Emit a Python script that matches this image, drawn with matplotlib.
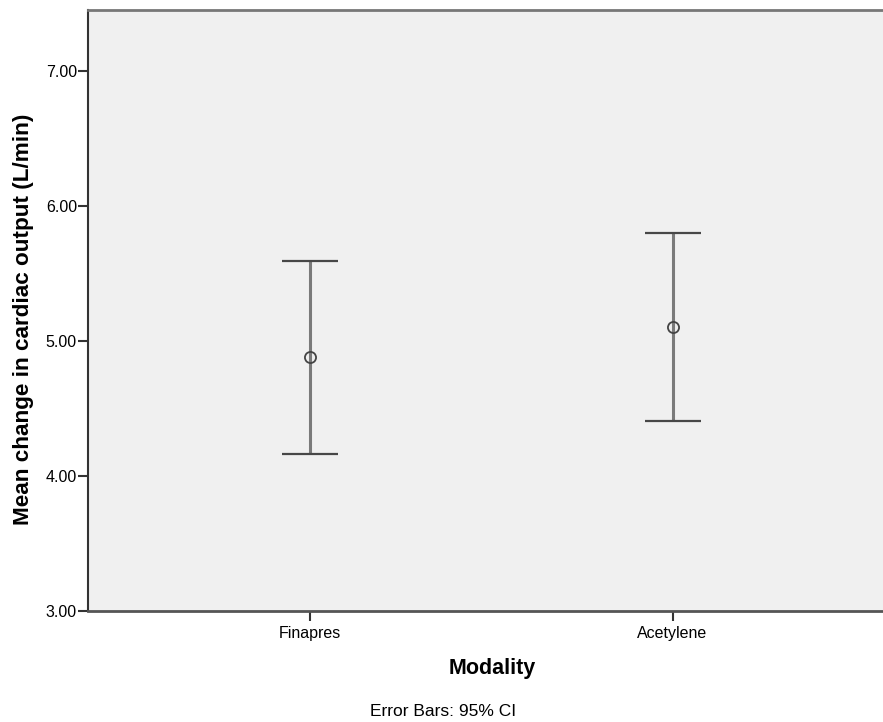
import matplotlib.pyplot as plt
import numpy as np

plt.rcParams['font.family'] = ['Liberation Sans', 'DejaVu Sans']

# data
modality = ['Finapres', 'Acetylene']
mean_change = [4.88, 5.10]
ci_lower = [4.165, 4.41]
ci_upper = [5.595, 5.80]

x = np.arange(1, len(modality) + 1)
mean_arr = np.array(mean_change)
err = [mean_arr - np.array(ci_lower), np.array(ci_upper) - mean_arr]

fig = plt.figure(figsize=(8.83, 7.22), dpi=100)
ax = fig.add_axes([0.0997, 0.1537, 0.9003, 0.8318])
ax.set_facecolor('#f0f0f0')

# whiskers, then darker caps
ax.errorbar(x, mean_arr, yerr=err, fmt='none', ecolor='#7a7a7a',
            elinewidth=2.2, capsize=0)
ax.errorbar(x, mean_arr, yerr=err, fmt='none', ecolor='#474747',
            elinewidth=0, capsize=20, capthick=1.6)
ax.plot(x, mean_arr, 'o', markersize=8, markerfacecolor='none',
        markeredgecolor='#444444', markeredgewidth=1.3)

ax.set_xlim(0.389, 2.58)
ax.set_ylim(3.0, 7.448)
ax.set_xticks(x)
ax.set_xticklabels(modality, fontsize=11.5)
ax.set_yticks([3, 4, 5, 6, 7])
ax.set_yticklabels(['%.2f' % v for v in [3, 4, 5, 6, 7]], fontsize=11.5)
ax.tick_params(axis='both', direction='out', length=7, width=1.5,
               color='#333333', pad=1)
ax.tick_params(axis='x', pad=3.5)

ax.spines['left'].set_color('#333333')
ax.spines['left'].set_linewidth(1.5)
ax.spines['bottom'].set_color('#555555')
ax.spines['bottom'].set_linewidth(2)
ax.spines['top'].set_color('#777777')
ax.spines['top'].set_linewidth(2)
ax.spines['right'].set_visible(False)

ax.set_ylabel('Mean change in cardiac output (L/min)', fontsize=16.2,
              fontweight='bold')
ax.yaxis.set_label_coords(-0.068, 0.486)
ax.set_xlabel('Modality', fontsize=15.5, fontweight='bold')
ax.xaxis.set_label_coords(0.508, -0.078)

fig.text(443 / 883, 1 - 712 / 722, 'Error Bars: 95% CI',
         ha='center', va='center', fontsize=12.5)

plt.savefig('out.png', dpi=100)
